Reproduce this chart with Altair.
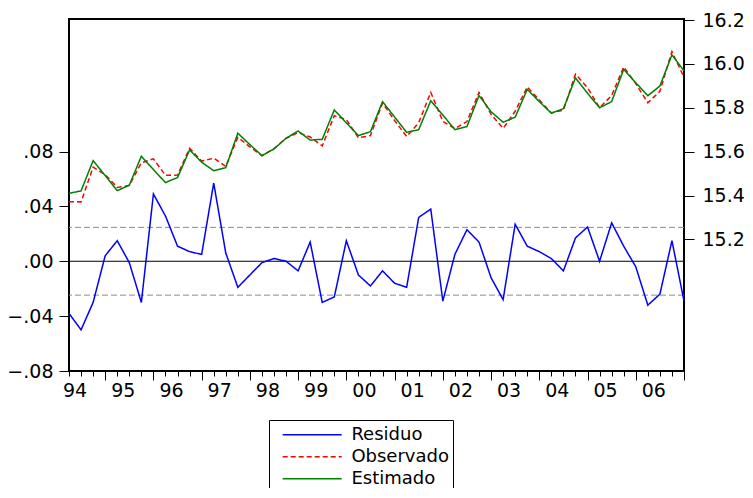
import json
import altair as alt
import pandas as pd

# ---------------- data ----------------
year_labels = ["94", "95", "96", "97", "98", "99", "00", "01", "02", "03", "04", "05", "06"]
quarters = list(range(52))  # 1994Q1 .. 2006Q4

residuo = [
    -0.038, -0.050, -0.030, 0.004, 0.015, -0.001, -0.030, 0.049,
    0.033, 0.011, 0.007, 0.005, 0.057, 0.006, -0.019, -0.010,
    -0.001, 0.002, 0.000, -0.007, 0.014, -0.030, -0.026, 0.015,
    -0.010, -0.018, -0.007, -0.016, -0.019, 0.032, 0.038, -0.029,
    0.005, 0.023, 0.014, -0.012, -0.028, 0.027, 0.011, 0.007,
    0.002, -0.007, 0.017, 0.025, 0.000, 0.028, 0.011, -0.004,
    -0.032, -0.024, 0.015, -0.029,
]
observado = [
    15.372, 15.371, 15.529, 15.495, 15.437, 15.446, 15.549, 15.567,
    15.492, 15.493, 15.615, 15.557, 15.570, 15.533, 15.665, 15.622,
    15.581, 15.614, 15.661, 15.687, 15.667, 15.626, 15.764, 15.746,
    15.663, 15.673, 15.821, 15.742, 15.669, 15.732, 15.870, 15.738,
    15.705, 15.737, 15.870, 15.770, 15.706, 15.784, 15.895, 15.835,
    15.777, 15.789, 15.953, 15.891, 15.800, 15.856, 15.986, 15.910,
    15.823, 15.875, 16.056, 15.939,
]
estimado = [
    15.410, 15.421, 15.559, 15.491, 15.422, 15.447, 15.579, 15.518,
    15.459, 15.482, 15.608, 15.552, 15.513, 15.527, 15.684, 15.632,
    15.582, 15.612, 15.661, 15.694, 15.653, 15.656, 15.790, 15.731,
    15.673, 15.691, 15.828, 15.758, 15.688, 15.700, 15.832, 15.767,
    15.700, 15.714, 15.856, 15.782, 15.734, 15.757, 15.884, 15.828,
    15.775, 15.796, 15.936, 15.866, 15.800, 15.828, 15.975, 15.914,
    15.855, 15.899, 16.041, 15.968,
]
std_band = [0.0247, -0.0247]
zero_line = [0.0]

left_ticks = [-0.08, -0.04, 0.00, 0.04, 0.08]
right_ticks = [15.2, 15.4, 15.6, 15.8, 16.0, 16.2]

series_names = ["Residuo", "Observado", "Estimado"]
series_colors = ["#0000FF", "#FF0000", "#008000"]
series_dashes = [[1, 0], [5, 3], [1, 0]]

# ---------------- tables ----------------
rows = []
for name, vals in zip(series_names, [residuo, observado, estimado]):
    for q, v in zip(quarters, vals):
        rows.append({"t": q, "serie": name, "valor": v})
df = pd.DataFrame(rows)
band_df = pd.DataFrame({"valor": std_band})
zero_df = pd.DataFrame({"valor": zero_line})

FONT = "DejaVu Sans"

x_enc = alt.X(
    "t:Q",
    scale=alt.Scale(domain=[0, 51], nice=False, zero=False),
    axis=alt.Axis(
        values=quarters,
        title=None,
        domain=False,
        grid=False,
        tickColor="black",
        tickWidth=1,
        tickSize={"condition": {"test": "datum.value % 4 == 3", "value": 9}, "value": 5},
        labelExpr=f"datum.value % 4 == 0 ? {json.dumps(year_labels)}[datum.value / 4] : ''",
        labelFlush=False,
        labelOverlap=False,
        labelOffset=5.5,
        labelPadding=5,
        labelFont=FONT,
        labelFontSize=19,
        labelColor="black",
    ),
)

left_scale = alt.Scale(domain=[-0.08, 0.1766], nice=False, zero=False)
left_axis = alt.Axis(
    values=left_ticks,
    title=None,
    domain=False,
    grid=False,
    tickColor="black",
    tickSize=10,
    labelPadding=6,
    labelExpr="replace(format(datum.value, '.2f'), '0.', '.')",
    labelFont=FONT,
    labelFontSize=19,
    labelColor="black",
)
left_y = alt.Y("valor:Q", scale=left_scale, axis=left_axis)

right_scale = alt.Scale(domain=[14.6, 16.2046], nice=False, zero=False)
right_axis = alt.Axis(
    values=right_ticks,
    title=None,
    domain=False,
    grid=False,
    tickColor="black",
    tickSize=10,
    labelPadding=8,
    format=".1f",
    labelFont=FONT,
    labelFontSize=19,
    labelColor="black",
)
right_y = alt.Y("valor:Q", scale=right_scale, axis=right_axis)

legend_kw = dict(
    orient="none",
    legendX=200,
    legendY=401,
    title=None,
    symbolType="stroke",
    symbolSize=3481,
    symbolStrokeWidth=1.5,
    clipHeight=21.5,
    rowPadding=0,
    padding=4,
    symbolOffset=8.7,
    labelOffset=8.7,
    labelFont=FONT,
    labelFontSize=18,
    labelColor="black",
    strokeColor="black",
    fillColor="white",
)
color_enc = alt.Color(
    "serie:N",
    scale=alt.Scale(domain=series_names, range=series_colors),
    legend=alt.Legend(**legend_kw),
)
dash_enc = alt.StrokeDash(
    "serie:N",
    scale=alt.Scale(domain=series_names, range=series_dashes),
    legend=alt.Legend(**legend_kw),
)

bands = alt.Chart(band_df).mark_rule(color="#8c8c8c", strokeDash=[6, 3], strokeWidth=1).encode(y=left_y)
zero = alt.Chart(zero_df).mark_rule(color="black", strokeWidth=1).encode(y=left_y)
resid = (
    alt.Chart(df)
    .transform_filter("datum.serie == 'Residuo'")
    .mark_line(strokeWidth=1.5)
    .encode(x=x_enc, y=left_y, color=color_enc, strokeDash=dash_enc, order="t:Q")
)
left_group = alt.layer(bands, zero, resid)

levels = (
    alt.Chart(df)
    .transform_filter("datum.serie != 'Residuo'")
    .mark_line(strokeWidth=1.5)
    .encode(x=x_enc, y=right_y, color=color_enc, strokeDash=dash_enc, order="t:Q")
)
right_group = alt.layer(levels)

chart = (
    alt.layer(left_group, right_group)
    .resolve_scale(y="independent")
    .properties(
        width=615,
        height=352,
        autosize=alt.AutoSizeParams(type="none"),
        padding={"left": 61, "top": 11, "right": 60, "bottom": 117},
        background="white",
    )
    .configure_view(stroke="black", strokeWidth=2)
)

chart.save("out.html", embed_options={"renderer": "svg", "actions": False})
